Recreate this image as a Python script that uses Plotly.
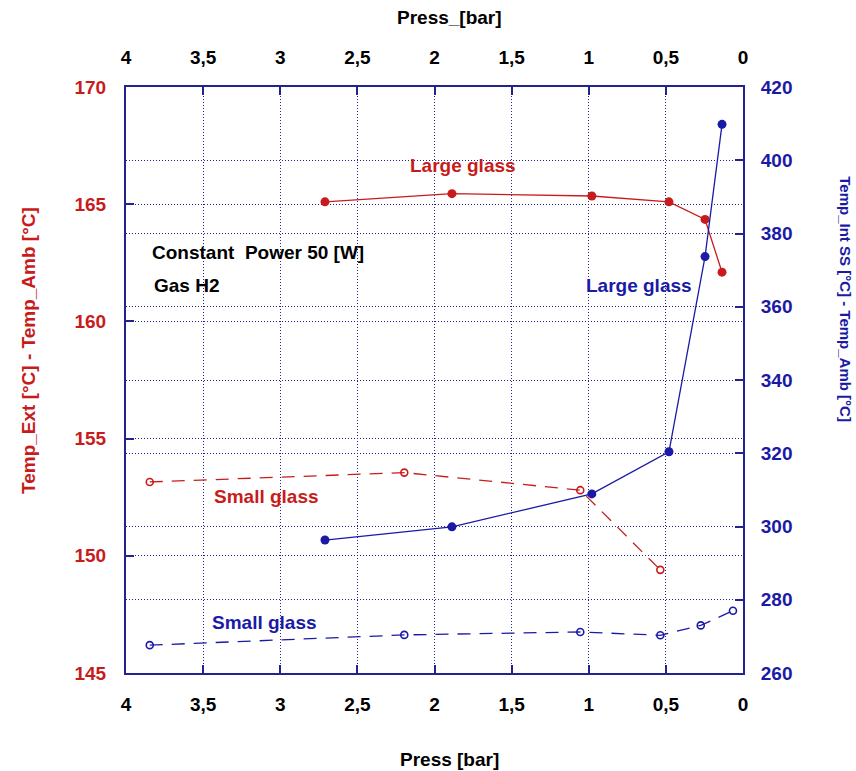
import plotly.graph_objects as go

# Large glass (filled markers)
press_large = [2.71, 1.887, 0.98, 0.48, 0.246, 0.136]
ext_large = [165.1, 165.45, 165.35, 165.1, 164.35, 162.1]
int_large = [296.3, 299.9, 308.9, 320.4, 373.7, 409.8]

# Small glass (open markers)
press_small_ext = [3.846, 2.196, 1.055, 0.536]
ext_small = [153.15, 153.55, 152.8, 149.4]
press_small_int = [3.846, 2.196, 1.055, 0.536, 0.274, 0.065]
int_small = [267.6, 270.4, 271.2, 270.3, 273.0, 277.0]

x_ticks = [4, 3.5, 3, 2.5, 2, 1.5, 1, 0.5, 0]
left_ticks = [145, 150, 155, 160, 165, 170]
right_ticks = [260, 280, 300, 320, 340, 360, 380, 400, 420]

RED = "#c81c1c"
BLUE = "#1a1aa6"
NAVY = "#23238f"
FONT = "Liberation Sans"
GRIDDASH = "1px,2px"

fig = go.Figure()

fig.add_trace(go.Scatter(x=press_large, y=ext_large, mode="lines+markers",
                         line=dict(color=RED, width=1.3),
                         marker=dict(color=RED, size=9), yaxis="y"))
fig.add_trace(go.Scatter(x=press_small_ext, y=ext_small, mode="lines+markers",
                         line=dict(color=RED, width=1.3, dash="13px,9px"),
                         marker=dict(color=RED, size=7, symbol="circle-open", line=dict(width=1.6)),
                         yaxis="y"))
fig.add_trace(go.Scatter(x=press_large, y=int_large, mode="lines+markers",
                         line=dict(color=BLUE, width=1.3),
                         marker=dict(color=BLUE, size=9), yaxis="y2"))
fig.add_trace(go.Scatter(x=press_small_int, y=int_small, mode="lines+markers",
                         line=dict(color=BLUE, width=1.3, dash="13px,9px"),
                         marker=dict(color=BLUE, size=7, symbol="circle-open", line=dict(width=1.6)),
                         yaxis="y2"))
# invisible trace to activate the top axis
fig.add_trace(go.Scatter(x=[4, 0], y=[145, 145], xaxis="x2", mode="markers",
                         marker=dict(opacity=0), hoverinfo="skip"))

tickfont = dict(family=FONT, size=19, color="black", weight="bold")
common_x = dict(range=[4, 0], tickvals=x_ticks, showline=True, linecolor=NAVY, linewidth=2,
                ticks="inside", ticklen=8, tickcolor=NAVY, tickwidth=2,
                tickfont=tickfont, zeroline=False, ticklabelstandoff=13)

fig.update_layout(
    width=856, height=771,
    margin=dict(l=126, r=113, t=87, b=98),
    paper_bgcolor="white", plot_bgcolor="white",
    showlegend=False,
    separators=", ",
    font=dict(family=FONT),
    xaxis=dict(**common_x, showgrid=True, gridcolor=NAVY, griddash=GRIDDASH, gridwidth=1),
    xaxis2=dict(**common_x, overlaying="x", side="top", anchor="y", showgrid=False),
    yaxis=dict(range=[145, 170], tickvals=left_ticks, showline=True, linecolor=NAVY, linewidth=2,
               ticks="inside", ticklen=8, tickcolor=NAVY, tickwidth=2,
               tickfont=dict(family=FONT, size=19, color=RED, weight="bold"),
               showgrid=True, gridcolor=NAVY, griddash=GRIDDASH, gridwidth=1, zeroline=False,
               ticklabelstandoff=14),
    yaxis2=dict(range=[260, 420], tickvals=right_ticks, overlaying="y", side="right",
                showline=True, linecolor=NAVY, linewidth=2,
                ticks="inside", ticklen=8, tickcolor=NAVY, tickwidth=2,
                tickfont=dict(family=FONT, size=19, color=BLUE, weight="bold"),
                showgrid=True, gridcolor=NAVY, griddash=GRIDDASH, gridwidth=1, zeroline=False,
                ticklabelstandoff=12),
)

def label(text, x, y, color, yref="y", xanchor="center", size=19):
    fig.add_annotation(text=text, x=x, y=y, xref="x", yref=yref, showarrow=False,
                       xanchor=xanchor, yanchor="middle",
                       font=dict(family=FONT, size=size, color=color, weight="bold"))

label("Large glass", 1.815, 166.63, RED)
label("Constant  Power 50 [W]", 3.844, 162.92, "black", xanchor="left")
label("Gas H2", 3.83, 161.55, "black", xanchor="left")
label("Large glass", 0.674, 365.7, BLUE, yref="y2")
label("Small glass", 3.092, 152.55, RED)
label("Small glass", 3.105, 273.7, BLUE, yref="y2")

def title(text, x, y, color, angle=0, size=19):
    fig.add_annotation(text=text, x=x, y=y, xref="paper", yref="paper", showarrow=False,
                       textangle=angle, xanchor="center", yanchor="middle",
                       font=dict(family=FONT, size=size, color=color, weight="bold"))

title("Press_[bar]", 0.525, 1.118, "black")
title("Press [bar]", 0.525, -0.148, "black")
title("Temp_Ext [°C] - Temp_Amb [°C]", -0.159, 0.551, RED, angle=-90)
title("Temp_Int SS [°C] - Temp_Amb [°C]", 1.166, 0.637, BLUE, angle=90, size=15)

# drop the default page margin so the figure sits at the window's top-left corner
fig.write_html("out.html", config={"displayModeBar": False},
               post_script="document.body.style.margin='0';")
